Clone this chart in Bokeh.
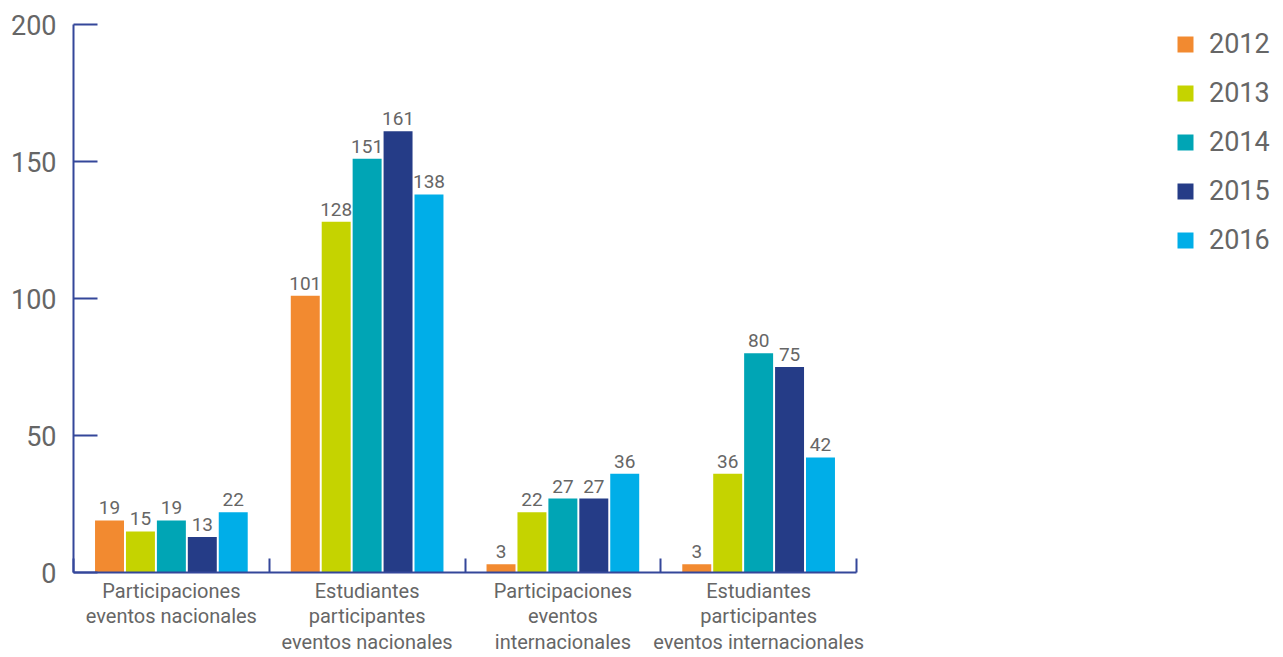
from bokeh.plotting import figure
from bokeh.models import (ColumnDataSource, FixedTicker, Legend, LegendItem,
                          LinearAxis, Range1d)
from bokeh.embed import file_html
from bokeh.resources import INLINE
from bokeh.core.properties import value

categories = ["Participaciones\neventos nacionales",
              "Estudiantes\nparticipantes\neventos nacionales",
              "Participaciones\neventos\ninternacionales",
              "Estudiantes\nparticipantes\neventos internacionales"]
years = ["2012", "2013", "2014", "2015", "2016"]
v2012 = [19, 101, 3, 3]
v2013 = [15, 128, 22, 36]
v2014 = [19, 151, 27, 80]
v2015 = [13, 161, 27, 75]
v2016 = [22, 138, 36, 42]
series = [v2012, v2013, v2014, v2015, v2016]
colors = ["#F28A30", "#C5D300", "#00A5B5", "#253C87", "#00AEE8"]
y_ticks = [0, 50, 100, 150, 200]

FONT = "Roboto"
TXT = "#666666"
AXC = "#34479A"

W, H = 1283, 657
LEFT, TOP, BOTTOM = 73, 24, 84
CAT_PX = 195.75  # pixel width of one category block
n = len(categories)

p = figure(width=W, height=H, output_backend="svg", toolbar_location=None,
           x_range=Range1d(0, (W - LEFT) / CAT_PX), y_range=Range1d(0, 200),
           min_border_left=LEFT, min_border_top=TOP, min_border_right=0,
           min_border_bottom=BOTTOM, x_axis_type=None, y_axis_type=None)
p.grid.visible = False
p.outline_line_color = None
p.background_fill_color = "white"
p.border_fill_color = "white"

step = 0.158
width = 0.148
items = []
for k, (yr, vals, col) in enumerate(zip(years, series, colors)):
    xs = [i + 0.5 + (k - 2) * step for i in range(n)]
    src = ColumnDataSource(dict(x=xs, top=vals, lab=[str(v) for v in vals]))
    r = p.vbar(x="x", top="top", width=width, bottom=0, source=src,
               fill_color=col, line_color=None)
    p.text(x="x", y="top", text="lab", source=src, text_align="center",
           text_baseline="bottom", y_offset=-6, text_color=TXT,
           text_font=value(FONT), text_font_size="19px")
    items.append(LegendItem(label=yr, renderers=[r]))

# y axis
yax = LinearAxis(ticker=FixedTicker(ticks=y_ticks))
yax.axis_line_color = AXC
yax.axis_line_width = 2
yax.major_tick_line_color = AXC
yax.major_tick_line_width = 2
yax.major_tick_in = 24
yax.major_tick_out = 0
yax.minor_tick_line_color = None
yax.major_label_text_font = FONT
yax.major_label_text_font_size = "27px"
yax.major_label_text_color = TXT
yax.major_label_standoff = 17
p.add_layout(yax, "left")

# x axis
centers = [i + 0.5 for i in range(n)]
bounds = list(range(n + 1))
xax = LinearAxis(ticker=FixedTicker(ticks=centers, minor_ticks=bounds),
                 bounds=(0, n))
xax.major_label_overrides = {c: lab for c, lab in zip(centers, categories)}
xax.axis_line_color = AXC
xax.axis_line_width = 2
xax.major_tick_line_color = None
xax.minor_tick_line_color = AXC
xax.minor_tick_line_width = 2
xax.minor_tick_in = 14
xax.minor_tick_out = 0
xax.major_label_text_font = FONT
xax.major_label_text_font_size = "20px"
xax.major_label_text_color = TXT
xax.major_label_text_line_height = 1.08
xax.major_label_standoff = 0
p.add_layout(xax, "below")

legend = Legend(items=items, location="top_right")
legend.border_line_color = None
legend.background_fill_alpha = 0
legend.glyph_width = 20
legend.glyph_height = 20
legend.label_text_font = FONT
legend.label_text_font_size = "27px"
legend.label_text_color = TXT
legend.label_standoff = 14
legend.label_width = 70
legend.spacing = 17
legend.padding = 0
legend.margin = 4
p.add_layout(legend, "center")

open("out.html", "w").write(file_html(p, INLINE))
